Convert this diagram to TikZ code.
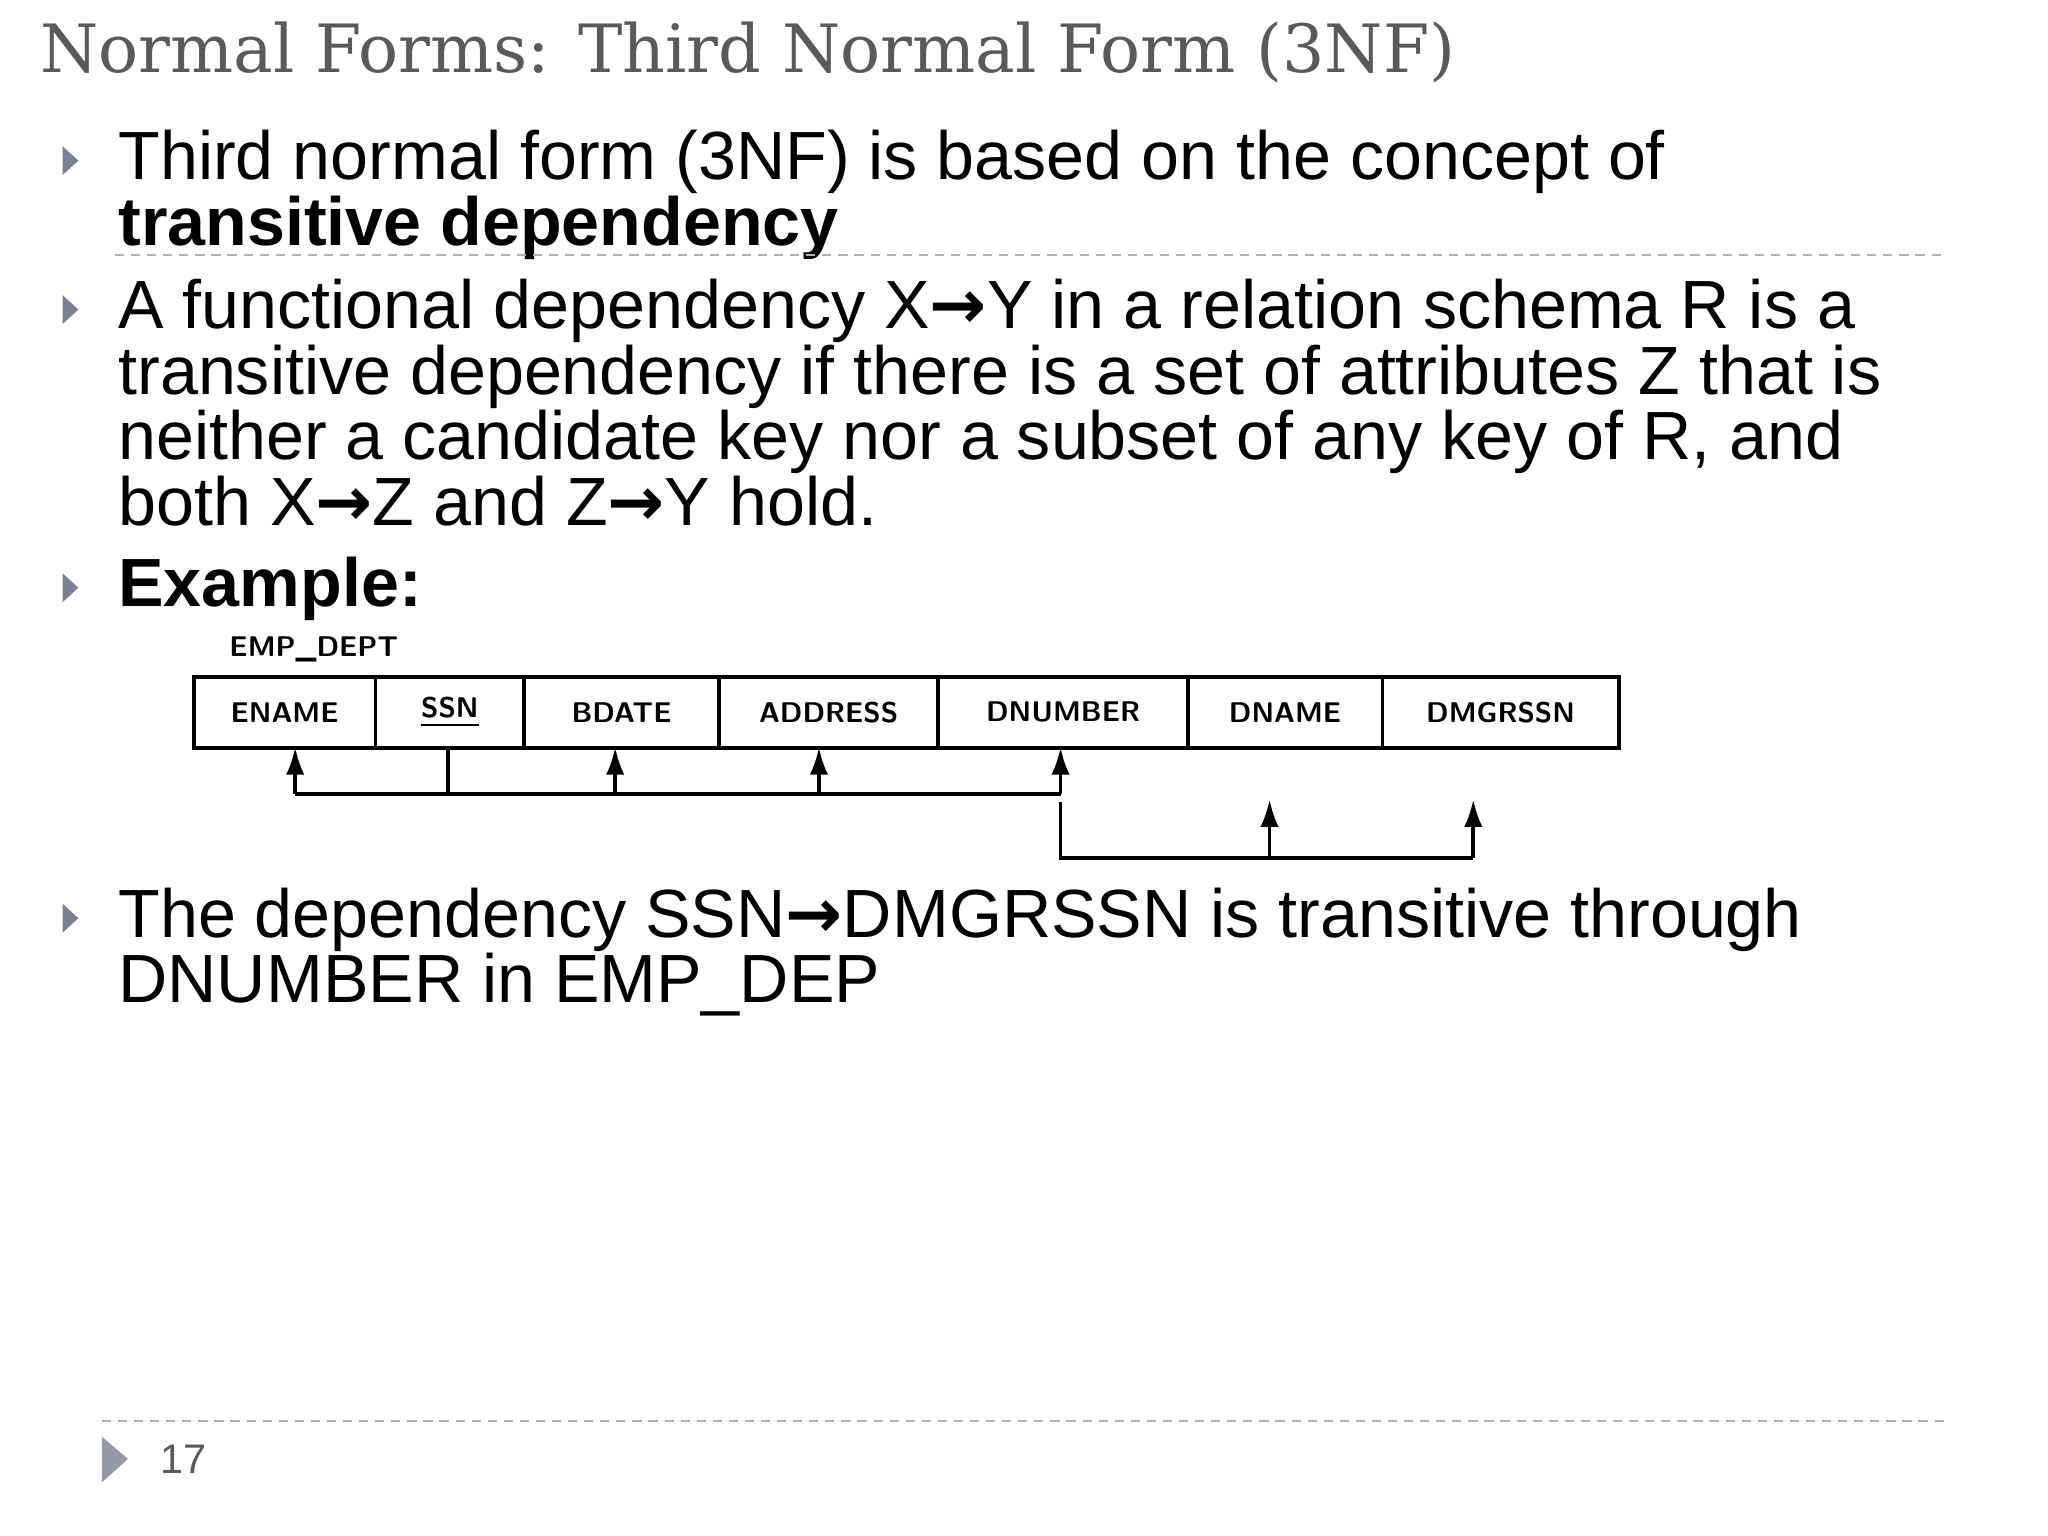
\documentclass[tikz,border=0pt]{standalone}
\usepackage{fontspec}
\setmainfont{Liberation Sans}
\newfontfamily\titlefont{DejaVu Serif}
\newfontfamily\arrfont{DejaVu Sans}
\newcommand{\myarr}{{\arrfont\bfseries →}}
\usetikzlibrary{arrows.meta}
\definecolor{bul}{RGB}{120,130,150}
\definecolor{ttl}{RGB}{90,90,90}
\tikzset{
  body/.style={anchor=north west,align=left,inner sep=0pt,font=\fontsize{14.85}{14.3}\selectfont},
  bullet/.style={fill=bul,draw=none},
  cell/.style={draw,thick,font=\sffamily\bfseries\fontsize{6.2}{7}\selectfont,inner sep=0pt,anchor=north west},
  dep/.style={thick},
  deparrow/.style={thick,-{Latex[length=6pt,width=4pt]}},
  sep/.style={dash pattern=on 2pt off 1.5pt,gray!60,thin}
}
\begin{document}
\begin{tikzpicture}[x=0.01cm,y=-0.01cm]
\useasboundingbox (0,0) rectangle (1568,1176);
\fill[white] (0,0) rectangle (1568,1176);
\node[anchor=west,inner sep=0pt,text=ttl,font=\titlefont\fontsize{14.5}{16}\selectfont] (title) at (30,40) {Normal Forms: Third Normal Form (3NF)};
% bullets
\foreach \yy in {123,237,450,703}{\fill[bullet] (48,\yy-11) -- (60,\yy) -- (48,\yy+11) -- cycle;}
\node[body] (b1) at (90,99) {Third normal form (3NF) is based on the concept of\\\textbf{transitive dependency}};
\draw[sep] (88,195) -- (1490,195);
\node[body] (b2) at (90,213) {A functional dependency X\myarr Y in a relation schema R is a\\transitive dependency if there is a set of attributes Z that is\\neither a candidate key nor a subset of any key of R, and\\both X\myarr Z and Z\myarr Y hold.};
\node[body] (b3) at (90,426) {\textbf{Example:}};
\node[body] (b4) at (90,679) {The dependency SSN\myarr DMGRSSN is transitive through\\DNUMBER in EMP\_DEP};
% table
\node[anchor=west,inner sep=0pt,font=\sffamily\bfseries\fontsize{6.2}{7}\selectfont] (tn) at (175,497) {EMP\_DEPT};
\foreach \a/\b/\t/\n in {147/286/ENAME/c1,286/400/\underline{SSN}/c2,400/549/BDATE/c3,549/717/ADDRESS/c4,717/908/DNUMBER/c5,908/1057/DNAME/c6,1057/1238/DMGRSSN/c7}{
  \node[cell,minimum width=(\b-\a)*0.01cm,minimum height=0.54cm] (\n) at (\a,517) {\t};
}
\coordinate (h1) at (226,608);
\coordinate (h2) at (343,608);
\coordinate (h2t) at (343,571);
\coordinate (h3) at (471,608);
\coordinate (h4) at (627,608);
\coordinate (h5) at (812,608);
\draw[dep] (h1) -- (h5);
\draw[dep] (h2t) -- (h2);
\draw[deparrow] (h1) -- (226,572);
\draw[deparrow] (h3) -- (471,572);
\draw[deparrow] (h4) -- (627,572);
\draw[deparrow] (h5) -- (812,572);
\coordinate (g0) at (812,614);
\coordinate (g1) at (812,657);
\coordinate (g2) at (972,657);
\coordinate (g3) at (1128,657);
\draw[dep] (g0) -- (g1) -- (g3);
\draw[deparrow] (g2) -- (972,612);
\draw[deparrow] (g3) -- (1128,612);
% footer
\draw[sep] (78,1088) -- (1490,1088);
\fill[bul!80] (78,1100) -- (98,1117) -- (78,1135) -- cycle;
\node[anchor=west,inner sep=0pt,font=\fontsize{9}{10}\selectfont,text=ttl] (pg) at (122,1117) {17};
\end{tikzpicture}
\end{document}
